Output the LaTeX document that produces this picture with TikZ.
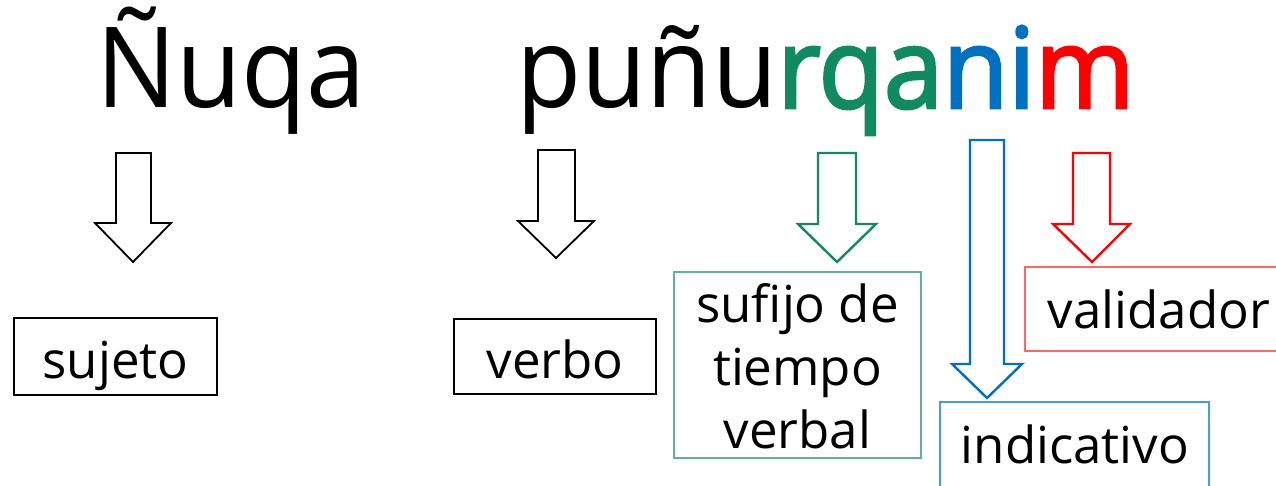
\documentclass[tikz,border=0pt]{standalone}
\usepackage{fontspec}
\setmainfont{Open Sans}
\newfontfamily\bigfont[FakeStretch=0.95]{Open Sans}
\newfontfamily\bigboldfont[FakeStretch=0.95,FakeBold=2.5]{Open Sans}
\definecolor{cgreen}{HTML}{108A60}
\definecolor{cblue}{HTML}{0070C0}
\definecolor{cred}{HTML}{FF0000}
\definecolor{cgreenl}{HTML}{5DB596}
\definecolor{cbluel}{HTML}{4A9BDB}
\definecolor{credl}{HTML}{FF6666}
\begin{document}
\begin{tikzpicture}[x=1pt,y=-1pt,
  big/.style={font=\bigfont\fontsize{112}{130}\selectfont, inner sep=0pt, anchor=base west},
  lbl/.style={font=\fontsize{51}{63}\selectfont, inner sep=0pt, anchor=base},
  boxframe/.style={draw, line width=1.1pt, inner sep=0pt},
  blockarrow/.style={draw, line width=1.8pt, line join=miter, fill=white}]
\useasboundingbox (0,0) rectangle (1276,486);
% title words
\node[big] (w1) at (96,108) {Ñuqa};
\node[big] (w2) at (516,108) {puñu{\bigboldfont\textcolor{cgreen}{rqa}\textcolor{cblue}{ni}\textcolor{cred}{m}}};
% block arrows
\draw[blockarrow] (116,153) -- (151,153) -- (151,223) -- (171,223) -- (133,262) -- (95,223) -- (116,223) -- cycle;
\draw[blockarrow] (538,150) -- (575,150) -- (575,221) -- (594,221) -- (556,258) -- (518,221) -- (538,221) -- cycle;
\draw[blockarrow, draw=cgreen, line width=2.4pt] (818,153) -- (856,153) -- (856,224) -- (876,224) -- (837,262) -- (798,224) -- (818,224) -- cycle;
\draw[blockarrow, draw=cblue, line width=2.4pt] (970,140) -- (1004,140) -- (1004,364) -- (1022,364) -- (987,398) -- (952,364) -- (970,364) -- cycle;
\draw[blockarrow, draw=cred, line width=2.4pt] (1073,153) -- (1110,153) -- (1110,224) -- (1130,224) -- (1092,262) -- (1053,224) -- (1073,224) -- cycle;
% boxes
\node[boxframe, minimum width=203pt, minimum height=77pt] (bsuj) at (115.5,356.5) {};
\node[lbl] (tsuj) at (115.5,378) {sujeto};
\node[boxframe, minimum width=202pt, minimum height=75pt] (bverb) at (555,356.5) {};
\node[lbl] (tverb) at (555,378) {verbo};
\node[boxframe, draw=cgreenl, minimum width=247pt, minimum height=186pt] (bsuf) at (797.5,365) {};
\node[lbl] (tsuf1) at (797.5,322) {sufijo de};
\node[lbl] (tsuf2) at (797.5,385) {tiempo};
\node[lbl] (tsuf3) at (797.5,448) {verbal};
\node[boxframe, draw=cbluel, minimum width=269pt, minimum height=100pt] (bind) at (1074.5,452) {};
\node[lbl] (tind) at (1075,463) {indicativo};
\node[boxframe, draw=credl, minimum width=280pt, minimum height=84pt] (bval) at (1165,309) {};
\node[lbl] (tval) at (1159,328) {validador};
\end{tikzpicture}
\end{document}
